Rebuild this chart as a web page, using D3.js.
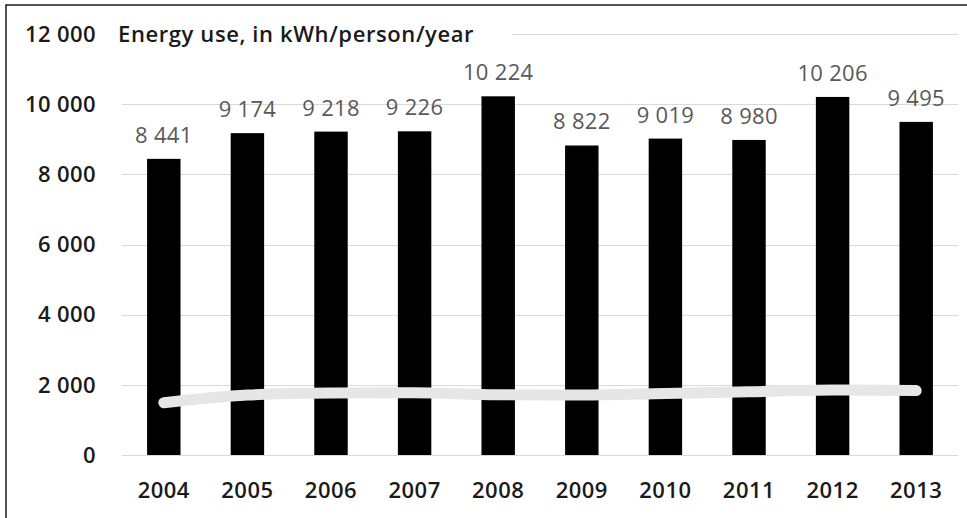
<!DOCTYPE html>
<html>
<head>
<meta charset="utf-8">
<script src="https://cdn.jsdelivr.net/npm/d3@7"></script>
<style>
  html, body { margin: 0; padding: 0; background: #fff; }
  svg { display: block; }
  text { font-family: "Open Sans", sans-serif; }
</style>
</head>
<body>
<div id="chart"></div>
<script>
var years = ["2004", "2005", "2006", "2007", "2008", "2009", "2010", "2011", "2012", "2013"];
var energy = [8441, 9174, 9218, 9226, 10224, 8822, 9019, 8980, 10206, 9495];
var trend = [1490, 1710, 1765, 1775, 1715, 1710, 1755, 1800, 1850, 1835];
var yTicks = [0, 2000, 4000, 6000, 8000, 10000, 12000];
var title = "Energy use, in kWh/person/year";

var W = 967, H = 518;
var margin = {top: 34, right: 9, bottom: 63, left: 122};

var svg = d3.select("#chart").append("svg")
    .attr("width", W)
    .attr("height", H);

// frame
svg.append("path")
    .attr("d", "M6," + H + "V5H" + W)
    .attr("fill", "none")
    .attr("stroke", "#1a1a1a")
    .attr("stroke-width", 1.5);

var x = d3.scaleBand()
    .domain(years)
    .range([margin.left, W - margin.right])
    .paddingInner(0.6)
    .paddingOuter(0.3);

var y = d3.scaleLinear()
    .domain([0, 12000])
    .range([H - margin.bottom, margin.top]);

var fmt = function(d) { return d3.format(",")(d).replace(/,/g, " "); };

// grid
svg.append("g").selectAll("line")
    .data(yTicks)
  .enter().append("line")
    .attr("x1", margin.left)
    .attr("x2", W - margin.right)
    .attr("y1", function(d) { return Math.round(y(d)) + 0.5; })
    .attr("y2", function(d) { return Math.round(y(d)) + 0.5; })
    .attr("stroke", "#d9d9d9")
    .attr("stroke-width", 1);

// y labels
svg.append("g").selectAll("text")
    .data(yTicks)
  .enter().append("text")
    .attr("x", 96)
    .attr("y", function(d) { return y(d); })
    .attr("dy", "0.35em")
    .attr("text-anchor", "end")
    .attr("font-size", 22)
    .attr("font-weight", 600)
    .attr("letter-spacing", 0.4)
    .attr("fill", "#1a1a1a")
    .text(fmt);

// title over the top gridline
svg.append("rect")
    .attr("x", 108)
    .attr("y", y(12000) - 16)
    .attr("width", 404)
    .attr("height", 32)
    .attr("fill", "#fff");

svg.append("text")
    .attr("x", 118)
    .attr("y", y(12000))
    .attr("dy", "0.35em")
    .attr("font-size", 22)
    .attr("font-weight", 600)
    .attr("letter-spacing", 0.6)
    .attr("fill", "#1a1a1a")
    .text(title);

// bars
svg.append("g").selectAll("rect")
    .data(energy)
  .enter().append("rect")
    .attr("x", function(d, i) { return x(years[i]); })
    .attr("y", function(d) { return y(d); })
    .attr("width", x.bandwidth())
    .attr("height", function(d) { return y(0) - y(d); })
    .attr("fill", "#000");

// value labels
svg.append("g").selectAll("text")
    .data(energy)
  .enter().append("text")
    .attr("x", function(d, i) { return x(years[i]) + x.bandwidth() / 2; })
    .attr("y", function(d) { return y(d) - 16; })
    .attr("text-anchor", "middle")
    .attr("font-size", 22)
    .attr("font-weight", 500)
    .attr("letter-spacing", 0.3)
    .attr("fill", "#595959")
    .text(fmt);

// x labels
svg.append("g").selectAll("text")
    .data(years)
  .enter().append("text")
    .attr("x", function(d) { return x(d) + x.bandwidth() / 2; })
    .attr("y", 490)
    .attr("dy", "0.35em")
    .attr("text-anchor", "middle")
    .attr("font-size", 22)
    .attr("font-weight", 600)
    .attr("letter-spacing", 0.5)
    .attr("fill", "#1a1a1a")
    .text(function(d) { return d; });

// trend line
var line = d3.line()
    .x(function(d, i) { return x(years[i]) + x.bandwidth() / 2; })
    .y(function(d) { return y(d); })
    .curve(d3.curveMonotoneX);

svg.append("path")
    .datum(trend)
    .attr("d", line)
    .attr("fill", "none")
    .attr("stroke", "#e6e6e6")
    .attr("stroke-width", 11)
    .attr("stroke-linecap", "round")
    .attr("stroke-linejoin", "round");
</script>
</body>
</html>
